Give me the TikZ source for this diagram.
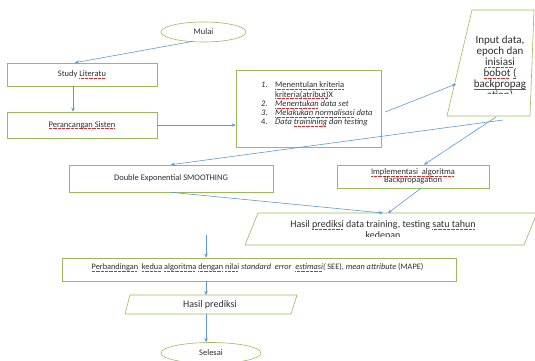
\documentclass[tikz,border=0pt]{standalone}
\usepackage{fontspec}
\setmainfont{Carlito}
\usetikzlibrary{arrows.meta,shapes.geometric,calc}
\definecolor{boxgreen}{RGB}{155,187,89}
\definecolor{arrblue}{RGB}{91,155,213}
\definecolor{txt}{RGB}{45,45,45}
\definecolor{spred}{RGB}{220,40,40}
\definecolor{spblue}{RGB}{60,90,200}
\newbox\spbox
\newcommand\spel[1]{\setbox\spbox\hbox{#1}\rlap{\lower1.7pt\hbox to\wd\spbox{\color{spred}\leaders\hbox{\rule{0.8pt}{0.5pt}\kern0.5pt}\hfil}}\box\spbox}
\newcommand\bspel[1]{\setbox\spbox\hbox{#1}\rlap{\lower1.7pt\hbox to\wd\spbox{\color{spblue}\leaders\hbox{\rule{0.8pt}{0.5pt}}\hfil}}\box\spbox}
\tikzset{
  box/.style={draw=boxgreen, line width=0.6pt, rectangle, inner sep=0pt},
  oval/.style={draw=boxgreen, line width=0.6pt, ellipse, inner sep=0pt},
  para/.style={draw=boxgreen, line width=0.6pt},
  lbl/.style={text=txt, inner sep=0pt, font=\fontsize{8.5}{10}\selectfont},
  conn/.style={draw=arrblue, line width=0.6pt, -{Stealth[length=4pt,width=3.5pt]}},
}
\begin{document}
\begin{tikzpicture}[x=1pt,y=-1pt]
\useasboundingbox (0,0) rectangle (535,361);
\clip (0,0) rectangle (535,361);

% nodes
\node[oval, lbl, minimum width=85pt, minimum height=20pt] (mulai) at (203.5,32) {Mulai};
\node[box, lbl, minimum width=150pt, minimum height=23pt] (study) at (82,74.5) {Study \spel{Literatu}};
\node[box, lbl, minimum width=150pt, minimum height=26pt] (peran) at (82,125) {\spel{Perancangan Sisten}};
\node[box, minimum width=145pt, minimum height=77pt] (list) at (308.5,108.5) {};
\node[lbl, anchor=north west, font=\fontsize{8.5}{9.3}\selectfont] (listtxt) at (261,81) {%
  \begin{tabular}{@{}p{14pt}@{}l@{}}
  \textit{1.} & \spel{Menentulan kriteria}\\
   & \spel{kriteria(atribut)}X\\
  \textit{2.} & \textit{\spel{Menentukan} data set}\\
  \textit{3.} & \textit{\spel{Melakukan normalisasi} data}\\
  4. & \textit{Data \spel{trainining} dan testing}
  \end{tabular}};

% input parallelogram
\coordinate (inTL) at (472,10);
\coordinate (inTR) at (534,10);
\coordinate (inBR) at (530,116);
\coordinate (inBL) at (447,116);
\draw[para] (inTL) -- (inTR) -- (inBR) -- (inBL) -- cycle;
\begin{scope}
  \clip (440,0) rectangle (535,93);
  \node[lbl, anchor=north, align=center, font=\fontsize{11}{11}\selectfont] (input) at (500,35.5)
    {Input data,\\epoch dan\\\spel{inisiasi}\\\spel{bobot} \bspel{(}\\\bspel{backpropag}\\\bspel{ation)}};
\end{scope}

\node[box, lbl, minimum width=204pt, minimum height=27pt] (dexp) at (171,178.5) {Double Exponential SMOOTHING};
\node[box, lbl, minimum width=152pt, minimum height=23pt, align=center, font=\fontsize{8.5}{8}\selectfont] (impl) at (413,176.5)
  {\spel{Implementasi\ \ algoritma}\\Backpropagation};

% hasil 1 parallelogram
\coordinate (h1TL) at (258,213);
\coordinate (h1TR) at (537,213);
\coordinate (h1BR) at (524,245);
\coordinate (h1BL) at (245,245);
\draw[para] (h1TL) -- (h1TR) -- (h1BR) -- (h1BL) -- cycle;
\begin{scope}
  \clip (240,213) rectangle (535,236.5);
  \node[lbl, anchor=north, align=center, font=\fontsize{10}{10.5}\selectfont] (hasil1) at (383,220.5)
    {Hasil \spel{prediksi} data training, testing \spel{satu tahun}\\kedepan};
\end{scope}

\node[box, minimum width=394pt, minimum height=23pt] (perb) at (259,269.5) {};
\node[lbl, font=\fontsize{8.3}{9}\selectfont] (perbtxt) at (257.5,267.5)
  {\spel{Perbandingan}\ \ \spel{kedua} \spel{algoritma} \spel{dengan} \spel{nilai} \textit{standard\ \ error\ \ \spel{estimasi}(} SEE), \textit{mean attribute} (MAPE)};

% hasil 2 parallelogram
\coordinate (h2TL) at (130,295);
\coordinate (h2TR) at (297,295);
\coordinate (h2BR) at (291,314);
\coordinate (h2BL) at (125,314);
\draw[para] (h2TL) -- (h2TR) -- (h2BR) -- (h2BL) -- cycle;
\node[lbl, font=\fontsize{10}{12}\selectfont] (hasil2) at (210,305) {Hasil prediksi};

\node[oval, lbl, minimum width=100pt, minimum height=21pt] (selesai) at (211,353) {Selesai};

% connector end points
\coordinate (a4s) at ($(list.east)+(4,3.5)$);
\coordinate (inL) at (456,84);
\coordinate (a5s) at (503,120);
\coordinate (a6s) at (496,117);
\coordinate (h1a) at (383,213);
\coordinate (h1b) at (388,213);
\coordinate (a9s) at (206,235);
\coordinate (h2top) at (206,295);
\coordinate (h2bot) at (206,314);

% connectors
\draw[conn] ($(mulai.south)+(-10.5,-1)$) -- ($(study.north)+(-7,0)$);
\draw[conn] ($(study.south)+(-9,0)$) -- ($(peran.north)+(-9,0)$);
\draw[conn] (peran.east) -- (peran.east -| list.west);
\draw[conn] (a4s) -- (inL);
\draw[conn] (a5s) -- (dexp.north);
\draw[conn] (a6s) -- ($(impl.north)+(11,0)$);
\draw[conn] (dexp.south) -- (h1a);
\draw[conn] ($(impl.south)+(8,0)$) -- (h1b);
\draw[conn] (a9s) -- ($(perb.north)+(-53,0)$);
\draw[conn] ($(perb.south)+(-53,0)$) -- (h2top);
\draw[conn] (h2bot) -- (h2bot |- selesai.north);
\end{tikzpicture}
\end{document}
